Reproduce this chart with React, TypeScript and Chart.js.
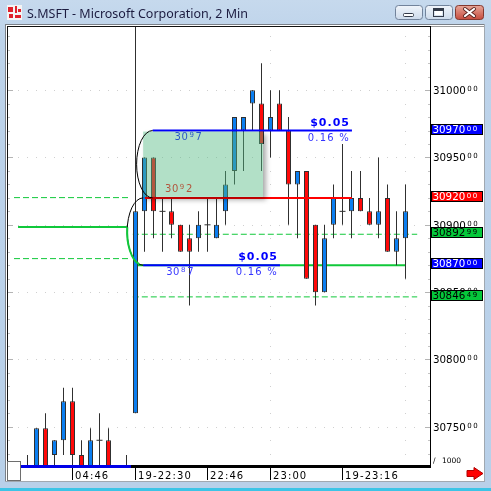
import React, { useEffect, useRef } from "react";
import { Chart, registerables } from "chart.js";

Chart.register(...registerables);

const SIZE = 491;
const TITLE = "S.MSFT - Microsoft Corporation, 2 Min";

// 2-minute bars; prices in tenths of a cent (30970 = $30.970)
const opens = [30720, 30720, 30749, 30729, 30740, 30769, 30729, 30720, 30740, 30740, null, 30720, 30760, 30910, 30950, 30910, 30910, 30900, 30890, 30890, 30900, 30890, 30910, 30940, 30970, 30990, 30990, 30970, 30990, 30970, 30930, 30940, 30900, 30850, 30900, 30910, 30910, 30920, 30910, 30900, 30920, 30880, 30890];
const highs = [30729, 30749, 30760, 30740, 30779, 30779, 30740, 30749, 30760, 30749, null, 30729, 31060, 30950, 30950, 30920, 30920, 30900, 30900, 30910, 30920, 30920, 30940, 30980, 30980, 31000, 31020, 31000, 31000, 30980, 30940, 30940, 30900, 30900, 30930, 30960, 30940, 30940, 30920, 30950, 30930, 30910, 30930];
const lows = [30720, 30720, 30720, 30721, 30729, 30720, 30720, 30720, 30720, 30720, null, 30720, 30760, 30880, 30890, 30880, 30890, 30880, 30840, 30880, 30880, 30890, 30900, 30930, 30940, 30970, 30940, 30950, 30970, 30900, 30890, 30860, 30840, 30850, 30890, 30900, 30890, 30910, 30900, 30890, 30880, 30870, 30860];
const closes = [30720, 30749, 30720, 30740, 30769, 30729, 30720, 30740, 30740, 30720, null, 30720, 30910, 30950, 30910, 30910, 30900, 30880, 30880, 30900, 30900, 30900, 30930, 30980, 30980, 31000, 30960, 30980, 30970, 30930, 30940, 30860, 30850, 30890, 30920, 30910, 30920, 30910, 30900, 30910, 30880, 30890, 30910];

// time axis
const timeTickIndex = [5, 12, 20, 27, 35];
const timeTickLabels = ["04:46", "19-22:30", "22:46", "23:00", "19-23:16"];
const halfHourIndex = [27, 42];

// price axis
const priceTicks = [31000, 30950, 30900, 30850, 30800, 30750];
const minorStep = 10;

// study levels
const prevSessionBands = [30920.2, 30874.9];
const sessionBands = [30892.99, 30846.49];
const prevCloseLevel = 30898.4;
const sessionAnchor = 30870;

// price-difference drawings: [from, to]
const upperMeasure = [30970, 30920];
const lowerMeasure = [30920, 30870];

// price flags on the right axis
const flagValues = [30970, 30920, 30892.99, 30870, 30846.49];

// ---- view / layout ----
const AREA = { left: 8, top: 27, right: 430, bottom: 466 };
const X_MIN = -19.5 / 9;
const X_MAX = X_MIN + 422 / 9;
const Y_MIN = 30720.9;
const Y_MAX = 31046.9;

const SPAN_PREV = [-1.5, 11.4];
const SPAN_SESSION = [11.7, 43.3];
const SPAN_PREV_CLOSE = [-1.05, 11.05];
const SPAN_ANCHOR = [12.2, 42];
const SPAN_UPPER_TOP = [13.9, 36.05];
const SPAN_UPPER_LOW = [13.05, 36.05];
const SPAN_LOWER = [12.85, 28.05];
const SPAN_SHADE = [12.85, 26.17];

const UP = "#0b7ef0";
const DOWN = "#ff0808";
const EDGE = "#303030";
const GREEN = "#10c83a";
const TOOL_BLUE = "#0000ff";
const TOOL_RED = "#ff0000";
const FLAG_COLORS = [
  ["#0000ff", "#ffffff"],
  ["#ff0000", "#ffffff"],
  ["#05c83a", "#000000"],
  ["#0000ff", "#ffffff"],
  ["#05c83a", "#000000"],
];

const idx = opens.map((_, i) => i).filter((i) => opens[i] != null);
const bodyData = idx.filter((i) => opens[i] !== closes[i]).map((i) => ({ x: i, y: [opens[i], closes[i]] }));
const wickData = idx.map((i) => ({ x: i, y: [lows[i], highs[i]] }));
const dojiData = idx.filter((i) => opens[i] === closes[i]).map((i) => ({ x: i, y: opens[i] }));

const seg = (span: number[], v: number) => [{ x: span[0], y: v }, { x: span[1], y: v }];

function level(data: any, color: string, width: number, dash: number[], order: number) {
  return {
    type: "line",
    data,
    borderColor: color,
    borderWidth: width,
    borderDash: dash,
    pointRadius: 0,
    pointHoverRadius: 0,
    tension: 0,
    fill: false,
    order,
  };
}

const splitPrice = (v: number) => {
  const main = Math.floor(v);
  const cents = Math.round((v - main) * 100);
  return [String(main), String(cents).padStart(2, "0")];
};

function drawPrice(ctx: any, x: number, y: number, v: number, color: string) {
  const [main, sup] = splitPrice(v);
  ctx.fillStyle = color;
  ctx.textAlign = "left";
  ctx.textBaseline = "alphabetic";
  ctx.font = '10.3px "DejaVu Sans"';
  ctx.letterSpacing = "0px";
  ctx.fillText(main, x, y + 3.7);
  const w = ctx.measureText(main).width;
  ctx.font = '7px "DejaVu Sans"';
  ctx.letterSpacing = "1.6px";
  ctx.fillText(sup, x + w + 1.5, y + 1);
  ctx.letterSpacing = "0px";
}

// "30" + raised digit + digit, e.g. 30.97
function drawToolPrice(ctx: any, x: number, y: number, v: number, color: string) {
  const s = String(Math.round(v / 10));
  ctx.fillStyle = color;
  ctx.textAlign = "left";
  ctx.textBaseline = "alphabetic";
  ctx.letterSpacing = "0.6px";
  ctx.font = '10px "DejaVu Sans"';
  ctx.fillText(s.slice(0, 2), x, y + 3.6);
  let cx = x + ctx.measureText(s.slice(0, 2)).width + 1;
  ctx.font = '7px "DejaVu Sans"';
  ctx.fillText(s.slice(2, 3), cx, y + 0.8);
  cx += ctx.measureText(s.slice(2, 3)).width + 1;
  ctx.font = '10px "DejaVu Sans"';
  ctx.fillText(s.slice(3), cx, y + 3.6);
  ctx.letterSpacing = "0px";
}

function drawMeasureText(ctx: any, xr: number, yLine: number, pair: number[]) {
  const diff = (pair[0] - pair[1]) / 1000;
  const pct = ((pair[0] - pair[1]) / pair[1]) * 100;
  ctx.textAlign = "right";
  ctx.textBaseline = "alphabetic";
  ctx.fillStyle = TOOL_BLUE;
  ctx.font = 'bold 11px "DejaVu Sans"';
  ctx.letterSpacing = "1px";
  ctx.fillText("$" + diff.toFixed(2), xr, yLine - 5);
  ctx.fillStyle = "#3434ff";
  ctx.font = '10px "DejaVu Sans"';
  ctx.letterSpacing = "1.2px";
  ctx.fillText(pct.toFixed(2) + " %", xr, yLine + 10);
  ctx.letterSpacing = "0px";
}

function roundRect(ctx: any, x: number, y: number, w: number, h: number, r: number) {
  ctx.beginPath();
  ctx.moveTo(x + r, y);
  ctx.lineTo(x + w - r, y);
  ctx.quadraticCurveTo(x + w, y, x + w, y + r);
  ctx.lineTo(x + w, y + h - r);
  ctx.quadraticCurveTo(x + w, y + h, x + w - r, y + h);
  ctx.lineTo(x + r, y + h);
  ctx.quadraticCurveTo(x, y + h, x, y + h - r);
  ctx.lineTo(x, y + r);
  ctx.quadraticCurveTo(x, y, x + r, y);
  ctx.closePath();
}

function drawButton(ctx: any, x: number, w: number, top: string, bottom: string, stroke: string) {
  const g = ctx.createLinearGradient(0, 5, 0, 20);
  g.addColorStop(0, top);
  g.addColorStop(1, bottom);
  roundRect(ctx, x + 0.5, 5.5, w, 14, 3);
  ctx.fillStyle = g;
  ctx.fill();
  ctx.strokeStyle = stroke;
  ctx.lineWidth = 1;
  ctx.stroke();
}

// window frame, title bar and grid
const framePlugin = {
  id: "frame",
  beforeDraw(chart: any) {
    const ctx = chart.ctx;
    const xs = chart.scales.x;
    const ys = chart.scales.y;
    ctx.save();
    const bg = ctx.createLinearGradient(0, 0, 0, SIZE);
    bg.addColorStop(0, "#c6d9ed");
    bg.addColorStop(0.08, "#bdd3ea");
    bg.addColorStop(1, "#b8d0e9");
    ctx.fillStyle = bg;
    ctx.fillRect(0, 0, SIZE, SIZE);
    ctx.fillStyle = "#3cc4e6";
    ctx.fillRect(0, 488, SIZE, 3);

    // app icon
    ctx.fillStyle = "#f4f4f4";
    ctx.fillRect(7, 5, 15, 15);
    ctx.fillStyle = "#e0202a";
    ctx.fillRect(8, 7, 5, 5);
    ctx.fillRect(15, 6, 2, 7);
    ctx.fillRect(18, 9, 3, 3);
    ctx.fillRect(9, 14, 4, 4);
    ctx.fillRect(15, 15, 6, 3);

    // title
    ctx.font = '13px "Noto Sans"';
    ctx.fillStyle = "#1c1c40";
    ctx.textBaseline = "alphabetic";
    const tw = ctx.measureText(TITLE).width;
    ctx.save();
    ctx.translate(27, 18);
    ctx.scale(Math.min(1, 221 / tw), 1);
    ctx.fillText(TITLE, 0, 0);
    ctx.restore();

    // caption buttons
    drawButton(ctx, 395, 27, "#f2f6fb", "#cbd9ea", "#72839b");
    drawButton(ctx, 425, 27, "#f2f6fb", "#cbd9ea", "#72839b");
    drawButton(ctx, 455, 28, "#e9aa9c", "#c5483a", "#83382f");
    ctx.strokeStyle = "#333a48";
    ctx.fillStyle = "#ffffff";
    roundRect(ctx, 403.5, 13.5, 10, 3, 1);
    ctx.fill();
    ctx.stroke();
    ctx.strokeRect(433.5, 8.5, 10, 8);
    ctx.fillStyle = "#333a48";
    ctx.fillRect(434, 9, 9, 2);
    ctx.fillStyle = "#ffffff";
    ctx.fillRect(435, 11, 7, 4);
    ctx.lineCap = "round";
    ctx.strokeStyle = "#5a2520";
    ctx.lineWidth = 4;
    ctx.beginPath();
    ctx.moveTo(465, 9); ctx.lineTo(474, 16); ctx.moveTo(474, 9); ctx.lineTo(465, 16);
    ctx.stroke();
    ctx.strokeStyle = "#ffffff";
    ctx.lineWidth = 2.2;
    ctx.stroke();
    ctx.lineCap = "butt";

    // client panel
    ctx.fillStyle = "#ffffff";
    ctx.fillRect(6, 24, 478, 458);
    ctx.fillStyle = "#7a8088";
    ctx.fillRect(5, 24, 480, 1);
    ctx.fillRect(5, 24, 1, 458);
    ctx.fillStyle = "#a0a8b0";
    ctx.fillRect(484, 24, 1, 458);
    ctx.fillRect(5, 481, 480, 1);
    ctx.fillStyle = "#111111";
    ctx.fillRect(7, 26, 424, 1);
    ctx.fillRect(7, 26, 1, 440);
    ctx.fillStyle = "#9a9a9a";
    ctx.fillRect(431, 26, 53, 1);

    // dotted grid
    ctx.fillStyle = "#cfcfcf";
    for (const v of priceTicks) {
      const y = Math.round(ys.getPixelForValue(v));
      for (let i = -1; i <= 43; i++) ctx.fillRect(Math.floor(xs.getPixelForValue(i)), y, 1, 1);
    }
    for (let v = Math.ceil(Y_MIN / minorStep) * minorStep; v <= Y_MAX; v += minorStep) {
      const y = Math.round(ys.getPixelForValue(v));
      for (const i of halfHourIndex) ctx.fillRect(Math.floor(xs.getPixelForValue(i)), y, 1, 1);
      const major = v % 50 === 0;
      ctx.fillStyle = major ? "#b4b4b4" : "#c4c4c4";
      ctx.fillRect(AREA.left, y, major ? 5 : 2, 1);
      ctx.fillRect(major ? AREA.right - 5 : AREA.right - 2, y, major ? 5 : 2, 1);
      ctx.fillStyle = "#cfcfcf";
    }
    ctx.restore();
  },
};

// drawings, axes and flags on top of the bars
const overlayPlugin = {
  id: "overlay",
  afterDatasetsDraw(chart: any) {
    const ctx = chart.ctx;
    const xs = chart.scales.x;
    const ys = chart.scales.y;
    const px = (i: number) => xs.getPixelForValue(i);
    const py = (v: number) => ys.getPixelForValue(v);
    ctx.save();

    // prices written at the ends of the upper drawing (under the shading)
    drawToolPrice(ctx, px(SPAN_UPPER_TOP[0]) + 22, py(upperMeasure[0]) + 6, upperMeasure[0], TOOL_BLUE);
    drawToolPrice(ctx, px(SPAN_UPPER_LOW[0]) + 20, py(upperMeasure[1]) - 9.5, upperMeasure[1], TOOL_RED);

    // shaded box of the upper drawing, with its drop shadow
    const sx = px(SPAN_SHADE[0]);
    const sw = px(SPAN_SHADE[1]) - sx;
    const sy = py(upperMeasure[0]) + 1;
    const sh = py(upperMeasure[1]) - 1 - sy;
    ctx.save();
    ctx.beginPath();
    ctx.rect(0, 0, SIZE, SIZE);
    ctx.rect(sx, sy, sw, sh);
    ctx.clip("evenodd");
    ctx.filter = "blur(2.5px)";
    ctx.fillStyle = "rgba(0,0,0,0.33)";
    ctx.fillRect(sx + 3, sy + 3, sw, sh);
    ctx.restore();
    ctx.fillStyle = "rgba(84,186,131,0.45)";
    ctx.fillRect(sx, sy, sw, sh);

    // rounded left ends of both drawings
    const bracket = (xAt: number, pair: number[]) => {
      const t = py(pair[0]);
      const b = py(pair[1]);
      ctx.beginPath();
      ctx.ellipse(xAt, (t + b) / 2, 16, (b - t) / 2, 0, -Math.PI / 2, Math.PI / 2, true);
      ctx.stroke();
      return [(t + b) / 2, (b - t) / 2];
    };
    ctx.strokeStyle = "#000000";
    ctx.lineWidth = 1;
    bracket(px(SPAN_UPPER_TOP[0]), upperMeasure);
    const lx = px(SPAN_LOWER[0]);
    const [cy, ry] = bracket(lx, lowerMeasure);
    // prior close level bends down into the session anchor
    ctx.strokeStyle = GREEN;
    ctx.lineWidth = 2;
    ctx.beginPath();
    ctx.ellipse(lx, cy, 16, ry, 0, Math.PI + 0.13, Math.PI / 2 + 0.25, true);
    ctx.stroke();

    // labels of both drawings
    drawMeasureText(ctx, px(SPAN_UPPER_TOP[1]) - 2, py(upperMeasure[0]), upperMeasure);
    drawMeasureText(ctx, px(SPAN_LOWER[1]) - 2, py(lowerMeasure[1]), lowerMeasure);
    drawToolPrice(ctx, px(SPAN_LOWER[0]) + 23, py(lowerMeasure[1]) + 6, lowerMeasure[1], "#3a3aff");

    // bottom strip of the plot
    ctx.fillStyle = "#0000e8";
    ctx.fillRect(20, AREA.bottom - 1, px(11.5) - 20, 3);
    ctx.fillStyle = "#000000";
    ctx.fillRect(px(11.5), AREA.bottom - 1, AREA.right + 1 - px(11.5), 3);
    ctx.fillRect(AREA.right, AREA.top - 1, 1, AREA.bottom - AREA.top + 1);
    ctx.fillStyle = "#ffffff";
    ctx.fillRect(7, 461, 14, 20);
    ctx.strokeStyle = "#6e6e6e";
    ctx.lineWidth = 1;
    ctx.strokeRect(7.5, 461.5, 13, 19);

    // time axis
    ctx.font = '10px "DejaVu Sans"';
    ctx.letterSpacing = "1.1px";
    ctx.textAlign = "left";
    ctx.textBaseline = "alphabetic";
    timeTickIndex.forEach((i, k) => {
      const x = Math.floor(px(i));
      ctx.fillStyle = "#000000";
      ctx.fillRect(x, 468, 1, 12);
      ctx.fillText(timeTickLabels[k], x + 3, 478.5);
    });
    ctx.letterSpacing = "0px";

    // price axis labels
    for (const v of priceTicks) drawPrice(ctx, 433, py(v), v, "#000000");

    // price flags
    flagValues.forEach((v, k) => {
      const y = Math.round(py(v));
      ctx.fillStyle = FLAG_COLORS[k][0];
      ctx.fillRect(431, y - 7, 52, 11);
      ctx.strokeStyle = "#000000";
      ctx.strokeRect(431.5, y - 6.5, 51, 10);
      drawPrice(ctx, 432.5, y - 1.5, v, FLAG_COLORS[k][1]);
    });

    // scale note and scroll arrow
    ctx.fillStyle = "#000000";
    ctx.font = '7.5px "DejaVu Sans"';
    ctx.fillText("/", 433, 463);
    ctx.fillText("1000", 442, 463);
    ctx.beginPath();
    ctx.moveTo(467, 470.5);
    ctx.lineTo(474, 470.5);
    ctx.lineTo(474, 467.5);
    ctx.lineTo(483, 473.5);
    ctx.lineTo(474, 479.5);
    ctx.lineTo(474, 476.5);
    ctx.lineTo(467, 476.5);
    ctx.closePath();
    ctx.fillStyle = "#ff0000";
    ctx.fill();
    ctx.strokeStyle = "#b00000";
    ctx.stroke();
    ctx.restore();
  },
};

export default function App() {
  const ref = useRef<HTMLCanvasElement>(null);

  useEffect(() => {
    const canvas = ref.current;
    if (!canvas) return;
    const chart = new Chart(canvas, {
      type: "bar",
      data: {
        datasets: [
          level(seg(SPAN_PREV, prevSessionBands[0]), GREEN, 1, [6, 3], 6),
          level(seg(SPAN_PREV, prevSessionBands[1]), GREEN, 1, [6, 3], 6),
          level(seg(SPAN_SESSION, sessionBands[0]), GREEN, 1, [6, 3], 6),
          level(seg(SPAN_SESSION, sessionBands[1]), GREEN, 1, [6, 3], 6),
          level(seg(SPAN_PREV_CLOSE, prevCloseLevel), GREEN, 2, [], 5),
          level(seg(SPAN_ANCHOR, sessionAnchor), GREEN, 2, [], 5),
          {
            type: "bar",
            label: "wick",
            data: wickData,
            backgroundColor: EDGE,
            borderWidth: 0,
            barThickness: 1,
            maxBarThickness: 1,
            grouped: false,
            inflateAmount: 0,
            order: 4,
          },
          {
            type: "bar",
            label: "body",
            data: bodyData,
            backgroundColor: (c: any) => (c.raw && c.raw.y[1] > c.raw.y[0] ? UP : DOWN),
            borderColor: EDGE,
            borderWidth: 1,
            borderSkipped: false,
            barThickness: 5,
            maxBarThickness: 5,
            grouped: false,
            inflateAmount: 0,
            order: 3,
          },
          {
            type: "line",
            label: "doji",
            data: dojiData,
            showLine: false,
            pointStyle: "line",
            pointRadius: 3,
            pointHoverRadius: 3,
            pointBorderColor: EDGE,
            pointBorderWidth: 1,
            order: 2,
          },
          level(seg(SPAN_UPPER_TOP, upperMeasure[0]), TOOL_BLUE, 2, [], 1),
          level(seg(SPAN_UPPER_LOW, upperMeasure[1]), TOOL_RED, 2, [], 1),
          level(seg(SPAN_LOWER, lowerMeasure[1]), TOOL_BLUE, 2, [], 0),
        ] as any,
      },
      options: {
        responsive: false,
        devicePixelRatio: 1,
        animation: false,
        events: [],
        layout: {
          padding: {
            left: AREA.left,
            top: AREA.top,
            right: SIZE - AREA.right,
            bottom: SIZE - AREA.bottom,
          },
        },
        plugins: { legend: { display: false }, tooltip: { enabled: false } },
        scales: {
          x: { type: "linear", min: X_MIN, max: X_MAX, display: false, offset: false },
          y: { type: "linear", min: Y_MIN, max: Y_MAX, display: false },
        },
      } as any,
      plugins: [framePlugin, overlayPlugin],
    });
    return () => chart.destroy();
  }, []);

  return (
    <div style={{ position: "fixed", left: 0, top: 0, width: SIZE, height: SIZE }}>
      <canvas ref={ref} width={SIZE} height={SIZE} style={{ width: SIZE, height: SIZE, display: "block" }} />
    </div>
  );
}
